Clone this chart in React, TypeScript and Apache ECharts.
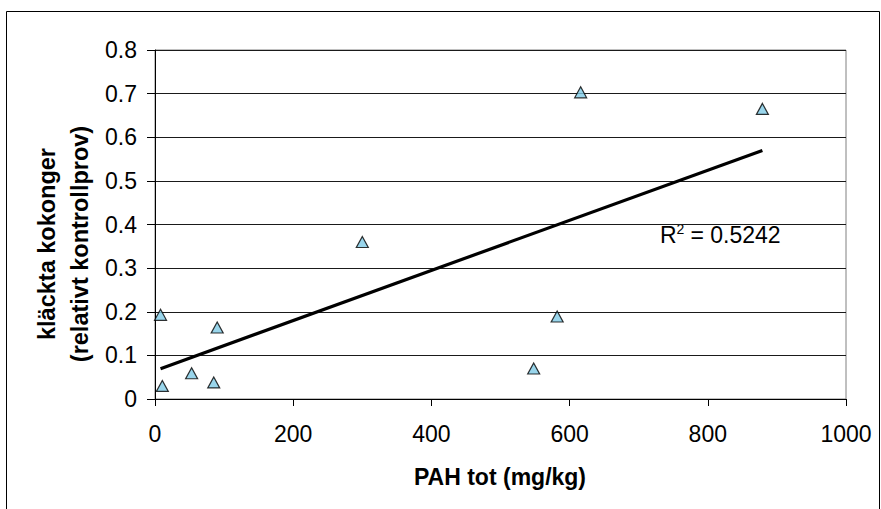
import React, { useEffect, useRef } from "react";
import * as echarts from "echarts";

// Data
const pahTot = [8, 10.6, 53, 85, 90, 300, 548, 582, 616, 879];
const klacktaKokonger = [0.193, 0.03, 0.059, 0.038, 0.164, 0.36, 0.07, 0.189, 0.703, 0.665];
const rSquaredText = "0.5242";
const xAxisTitle = "PAH tot (mg/kg)";
const yAxisTitleLines = ["kläckta kokonger", "(relativt kontrollprov)"];

const FONT = "'Liberation Sans', Arial, Helvetica, sans-serif";

function linearFit(xs: number[], ys: number[]) {
  const n = xs.length;
  const mx = xs.reduce((a, b) => a + b, 0) / n;
  const my = ys.reduce((a, b) => a + b, 0) / n;
  let sxy = 0;
  let sxx = 0;
  for (let i = 0; i < n; i++) {
    sxy += (xs[i] - mx) * (ys[i] - my);
    sxx += (xs[i] - mx) * (xs[i] - mx);
  }
  const slope = sxy / sxx;
  const intercept = my - slope * mx;
  return { slope, intercept };
}

export default function App() {
  const ref = useRef<HTMLDivElement>(null);

  useEffect(() => {
    if (!ref.current) return;
    const chart = echarts.init(ref.current, null, { renderer: "svg" });
    const { slope, intercept } = linearFit(pahTot, klacktaKokonger);
    const xMin = Math.min(...pahTot);
    const xMax = Math.max(...pahTot);
    const trend = [
      [xMin, intercept + slope * xMin],
      [xMax, intercept + slope * xMax],
    ];
    const points = pahTot.map((x, i) => [x, klacktaKokonger[i]]);

    chart.setOption({
      animation: false,
      backgroundColor: "#ffffff",
      grid: {
        left: 155,
        top: 50,
        right: 35,
        bottom: 110,
        show: true,
        borderColor: "#808080",
        borderWidth: 1,
        backgroundColor: "transparent",
      },
      xAxis: {
        type: "value",
        min: 0,
        max: 1000,
        interval: 200,
        axisLine: { show: true, onZero: false, lineStyle: { color: "#000", width: 1 } },
        axisTick: { show: true, length: 7, inside: false, lineStyle: { color: "#000" } },
        axisLabel: {
          color: "#000",
          fontSize: 23,
          fontFamily: FONT,
          margin: 23,
          formatter: (v: number) => String(v),
        },
        splitLine: { show: false },
      },
      yAxis: {
        type: "value",
        min: 0,
        max: 0.8,
        interval: 0.1,
        axisLine: { show: true, onZero: false, lineStyle: { color: "#000", width: 1 } },
        axisTick: { show: true, length: 8, inside: false, lineStyle: { color: "#000" } },
        axisLabel: {
          color: "#000",
          fontSize: 23,
          fontFamily: FONT,
          margin: 18,
          formatter: (v: number) => String(Math.round(v * 10) / 10),
        },
        splitLine: { show: true, lineStyle: { color: "#1a1a1a", width: 1.1 } },
      },
      series: [
        {
          type: "scatter",
          data: points,
          symbol: "triangle",
          symbolSize: [12, 11],
          itemStyle: { color: "#7FCBE6", borderColor: "#000", borderWidth: 1.2 },
          z: 3,
        },
        {
          type: "line",
          data: trend,
          symbol: "none",
          lineStyle: { color: "#000", width: 3.2 },
          z: 2,
        },
      ],
      graphic: [
        {
          type: "rect",
          shape: { x: 6.5, y: 11.5, width: 873, height: 600 },
          style: { fill: "none", stroke: "#000", lineWidth: 1 },
          silent: true,
        },
        {
          type: "text",
          x: 500,
          y: 477,
          style: {
            text: xAxisTitle,
            fill: "#000",
            font: `bold 23px ${FONT}`,
            textAlign: "center",
            textVerticalAlign: "middle",
          },
        },
        {
          type: "text",
          x: 47,
          y: 244,
          rotation: Math.PI / 2,
          style: {
            text: yAxisTitleLines[0],
            fill: "#000",
            font: `bold 23.5px ${FONT}`,
            textAlign: "center",
            textVerticalAlign: "middle",
          },
        },
        {
          type: "text",
          x: 80,
          y: 244,
          rotation: Math.PI / 2,
          style: {
            text: yAxisTitleLines[1],
            fill: "#000",
            font: `bold 23.5px ${FONT}`,
            textAlign: "center",
            textVerticalAlign: "middle",
          },
        },
        {
          type: "text",
          x: 660,
          y: 235,
          style: {
            text: "R",
            fill: "#000",
            font: `23px ${FONT}`,
            textAlign: "left",
            textVerticalAlign: "middle",
          },
        },
        {
          type: "text",
          x: 676.5,
          y: 229,
          style: {
            text: "2",
            fill: "#000",
            font: `14px ${FONT}`,
            textAlign: "left",
            textVerticalAlign: "middle",
          },
        },
        {
          type: "text",
          x: 684,
          y: 235,
          style: {
            text: " = " + rSquaredText,
            fill: "#000",
            font: `23px ${FONT}`,
            textAlign: "left",
            textVerticalAlign: "middle",
          },
        },
      ],
    });

    return () => chart.dispose();
  }, []);

  return (
    <div
      ref={ref}
      style={{ position: "absolute", left: 0, top: 0, width: 881, height: 509, background: "#fff" }}
    />
  );
}
